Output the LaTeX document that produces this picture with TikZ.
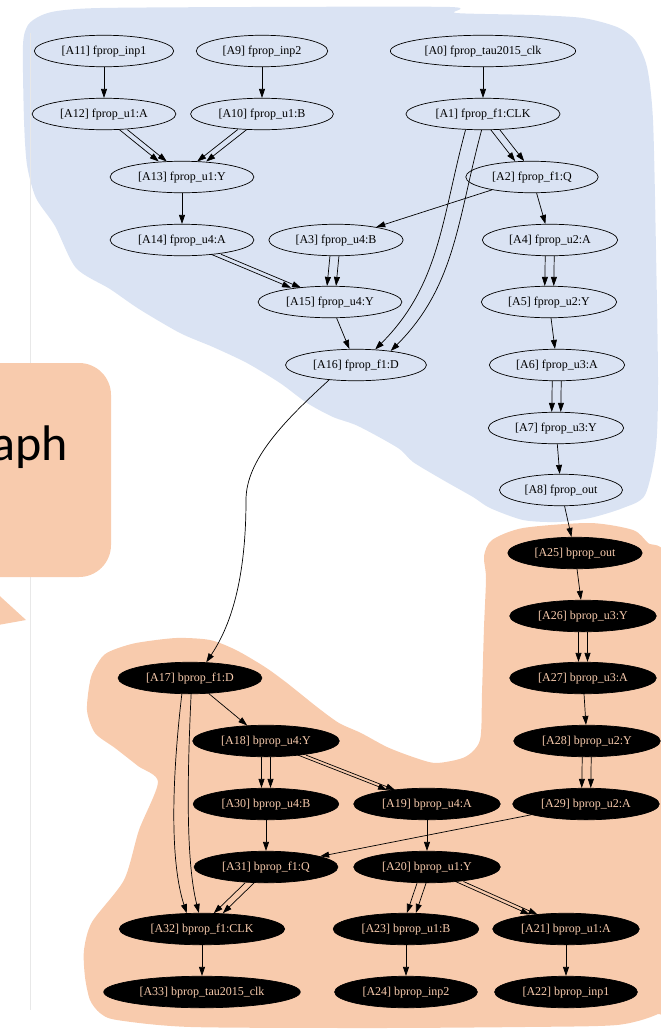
\documentclass[tikz,border=0pt]{standalone}
\usepackage{fontspec}
\setmainfont{Liberation Serif}
\newfontfamily\calloutfont{Carlito}
\usetikzlibrary{arrows.meta,shapes.geometric}
\definecolor{blueblob}{HTML}{DAE3F3}
\definecolor{peach}{HTML}{F8CBAD}
\definecolor{rulegray}{HTML}{E8E8E8}
\begin{document}
\begin{tikzpicture}[x=1pt,y=-1pt,
  fnode/.style={ellipse,draw=black,line width=0.7pt,inner xsep=7pt,inner ysep=3pt,
    minimum height=31.5pt,font=\fontsize{12}{14}\selectfont,text height=9pt,text depth=3pt},
  bnode/.style={fnode,fill=black,text=peach},
  edge/.style={line width=0.7pt,-{Triangle[length=9pt,width=6pt]}},
  pl/.style={transform canvas={xshift=-#1}},
  pr/.style={transform canvas={xshift=#1}},
  pl/.default=4.5pt, pr/.default=4.5pt]
\useasboundingbox (0,0) rectangle (661,1029);

% background regions
\fill[blueblob] plot[smooth cycle,tension=0.45] coordinates {
  (23,45) (28,25) (40,16) (57,11) (100,8) (250,7) (450,7) (456,13) (533,15)
  (583,18) (617,27) (635,40) (647,67) (653,120) (656,250) (658,380) (656,447)
  (645,495) (623,508) (590,518) (557,522) (523,520) (490,508) (473,497)
  (443,480) (413,462) (398,448) (358,426) (333,417) (307,403) (280,383)
  (247,363) (213,347) (180,333) (139,309) (110,289) (76,268) (55,226)
  (36,198) (27,165) (24,120)};
\fill[peach] plot[smooth cycle,tension=0.45] coordinates {
  (91,677) (102,657) (113,650) (136,643) (176,638) (210,640) (236,650)
  (265,667) (287,683) (317,707) (339,723) (361,733) (387,747) (413,757)
  (436,763) (465,757) (480,740) (482,693) (484,627) (486,578) (484,556)
  (492,540) (523,528) (590,523) (633,530) (648,543) (666,560) (668,700)
  (668,1000) (658,1014) (617,1025) (524,1027) (376,1028) (191,1027)
  (117,1020) (100,1013) (90,1000) (85,977) (84,950) (92,922) (124,880)
  (139,830) (158,782) (138,766) (115,748) (95,733) (87,710)};

% side rule and callout
\draw[rulegray,line width=0.8pt] (30,33) -- (30,1010);
\fill[peach,rounded corners=32pt] (-60,363) rectangle (111,577);
\fill[peach] (-21,577) -- (26,620) -- (-30,630) -- cycle;
\node[anchor=base east,inner sep=0pt,font=\calloutfont\fontsize{50}{60}\selectfont] (callout) at (68,460) {aph};

% forward graph
\node[fnode] (A11) at (104,51) {[A11] fprop\_inp1};
\node[fnode] (A9) at (262,51) {[A9] fprop\_inp2};
\node[fnode] (A0) at (483,51) {[A0] fprop\_tau2015\_clk};
\node[fnode] (A12) at (104,114) {[A12] fprop\_u1:A};
\node[fnode] (A10) at (262,114) {[A10] fprop\_u1:B};
\node[fnode] (A1) at (483,114) {[A1] fprop\_f1:CLK};
\node[fnode] (A13) at (182,177) {[A13] fprop\_u1:Y};
\node[fnode] (A2) at (532,177) {[A2] fprop\_f1:Q};
\node[fnode] (A14) at (182,240) {[A14] fprop\_u4:A};
\node[fnode] (A3) at (336,240) {[A3] fprop\_u4:B};
\node[fnode] (A4) at (550,240) {[A4] fprop\_u2:A};
\node[fnode] (A15) at (330,302) {[A15] fprop\_u4:Y};
\node[fnode] (A5) at (549,302) {[A5] fprop\_u2:Y};
\node[fnode] (A16) at (356,365) {[A16] fprop\_f1:D};
\node[fnode] (A6) at (557,365) {[A6] fprop\_u3:A};
\node[fnode] (A7) at (556,428) {[A7] fprop\_u3:Y};
\node[fnode] (A8) at (561,490) {[A8] fprop\_out};

% backward graph
\node[bnode] (A25) at (575,553) {[A25] bprop\_out};
\node[bnode] (A26) at (583,616) {[A26] bprop\_u3:Y};
\node[bnode] (A17) at (190,678) {[A17] bprop\_f1:D};
\node[bnode] (A27) at (583,678) {[A27] bprop\_u3:A};
\node[bnode] (A18) at (266,741) {[A18] bprop\_u4:Y};
\node[bnode] (A28) at (587,741) {[A28] bprop\_u2:Y};
\node[bnode] (A30) at (266,804) {[A30] bprop\_u4:B};
\node[bnode] (A19) at (427,804) {[A19] bprop\_u4:A};
\node[bnode] (A29) at (586,804) {[A29] bprop\_u2:A};
\node[bnode] (A31) at (266,867) {[A31] bprop\_f1:Q};
\node[bnode] (A20) at (427,867) {[A20] bprop\_u1:Y};
\node[bnode] (A32) at (202,929) {[A32] bprop\_f1:CLK};
\node[bnode] (A23) at (406,929) {[A23] bprop\_u1:B};
\node[bnode] (A21) at (566,929) {[A21] bprop\_u1:A};
\node[bnode] (A33) at (202,992) {[A33] bprop\_tau2015\_clk};
\node[bnode] (A24) at (406,992) {[A24] bprop\_inp2};
\node[bnode] (A22) at (566,992) {[A22] bprop\_inp1};

% forward edges
\draw[edge] (A11) -- (A12);
\draw[edge] (A9) -- (A10);
\draw[edge] (A0) -- (A1);
\draw[edge,pl=4pt] (A12) -- (A13);
\draw[edge,pr=4pt] (A12) -- (A13);
\draw[edge,pl] (A10) -- (A13);
\draw[edge,pr] (A10) -- (A13);
\draw[edge,pl] (A1) -- (A2);
\draw[edge,pr] (A1) -- (A2);
\draw[edge] (A1.-138) .. controls +(-24,89) and +(65,-65) .. (A16.39);
\draw[edge] (A1.-95) .. controls +(-24,89) and +(65,-65) .. (A16.22);
\draw[edge] (A13) -- (A14);
\draw[edge] (A2) -- (A3);
\draw[edge] (A2) -- (A4);
\draw[edge,pl=5pt] (A14) -- (A15);
\draw[edge,pr=5pt] (A14) -- (A15);
\draw[edge,pl] (A3) -- (A15);
\draw[edge,pr] (A3) -- (A15);
\draw[edge,pl] (A4) -- (A5);
\draw[edge,pr] (A4) -- (A5);
\draw[edge] (A15) -- (A16);
\draw[edge] (A5) -- (A6);
\draw[edge,pl] (A6) -- (A7);
\draw[edge,pr] (A6) -- (A7);
\draw[edge] (A7) -- (A8);
\draw[edge] (A8) -- (A25);
\draw[edge] (A16.-151) .. controls +(-45,41) and +(0,-40) .. (246,500)
  .. controls +(0,90) and +(20,-30) .. (A17.44);

% backward edges
\draw[edge] (A25) -- (A26);
\draw[edge,pl] (A26) -- (A27);
\draw[edge,pr] (A26) -- (A27);
\draw[edge] (A27) -- (A28);
\draw[edge,pl] (A28) -- (A29);
\draw[edge,pr] (A28) -- (A29);
\draw[edge] (A29) -- (A31);
\draw[edge] (A17) -- (A18);
\draw[edge] (A17.-117) .. controls +(-10,85) and +(-17,-52) .. (A32.134);
\draw[edge] (A17.-86) .. controls +(-4,85) and +(-13,-52) .. (A32.101);
\draw[edge,pl] (A18) -- (A30);
\draw[edge,pr] (A18) -- (A30);
\draw[edge,pl=4pt] (A18) -- (A19);
\draw[edge,pr=4pt] (A18) -- (A19);
\draw[edge] (A30) -- (A31);
\draw[edge] (A19) -- (A20);
\draw[edge,pl] (A31) -- (A32);
\draw[edge,pr] (A31) -- (A32);
\draw[edge,pl] (A20) -- (A23);
\draw[edge,pr] (A20) -- (A23);
\draw[edge,pl=4pt] (A20) -- (A21);
\draw[edge,pr=4pt] (A20) -- (A21);
\draw[edge] (A32) -- (A33);
\draw[edge] (A23) -- (A24);
\draw[edge] (A21) -- (A22);
\end{tikzpicture}
\end{document}
